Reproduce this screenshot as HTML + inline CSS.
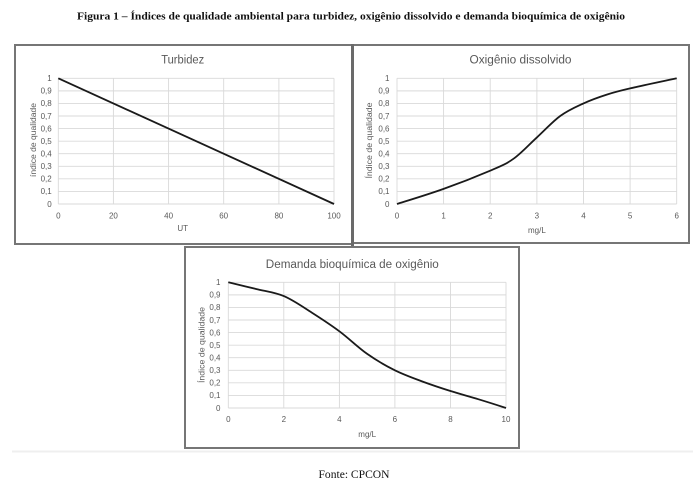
<!DOCTYPE html>
<html><head><meta charset="utf-8">
<style>
html,body{margin:0;padding:0;background:#fff;}
svg{display:block;}
.t{font-family:"Liberation Sans",sans-serif;fill:#595959;}
.cap{font-family:"Liberation Serif",serif;fill:#111;}
</style></head>
<body>
<svg width="699" height="484" viewBox="0 0 699 484" xmlns="http://www.w3.org/2000/svg">
<rect width="699" height="484" fill="#fff"/>
<text class="cap" x="351" y="19.5" font-size="10.5" font-weight="bold" text-anchor="middle" textLength="548" lengthAdjust="spacingAndGlyphs">Figura 1 – Índices de qualidade ambiental para turbidez, oxigênio dissolvido e demanda bioquímica de oxigênio</text>

<!-- Chart 1 -->
<rect x="15" y="45" width="337" height="199" fill="#fff" stroke="#767676" stroke-width="2"/>
<g stroke="#d9d9d9" stroke-width="0.9" fill="none">
<path d="M58.3 204H334M58.3 191.43H334M58.3 178.86H334M58.3 166.29H334M58.3 153.72H334M58.3 141.15H334M58.3 128.58H334M58.3 116.01H334M58.3 103.44H334M58.3 90.87H334M58.3 78.3H334"/>
<path d="M58.3 78.3V204M113.4 78.3V204M168.6 78.3V204M223.7 78.3V204M278.9 78.3V204M334 78.3V204"/>
</g>
<path d="M58.3 78.3L334 204" stroke="#1a1a1a" stroke-width="1.8" fill="none"/>
<text class="t" x="182.7" y="63.5" font-size="11.5" text-anchor="middle" textLength="43" lengthAdjust="spacingAndGlyphs">Turbidez</text>
<g class="t" font-size="8" text-anchor="end">
<text x="51.7" y="206.8">0</text><text x="51.7" y="194.2">0,1</text><text x="51.7" y="181.7">0,2</text><text x="51.7" y="169.1">0,3</text><text x="51.7" y="156.5">0,4</text><text x="51.7" y="143.9">0,5</text><text x="51.7" y="131.4">0,6</text><text x="51.7" y="118.8">0,7</text><text x="51.7" y="106.2">0,8</text><text x="51.7" y="93.7">0,9</text><text x="51.7" y="81.1">1</text>
</g>
<g class="t" font-size="8" text-anchor="middle">
<text x="58.3" y="218.5">0</text><text x="113.4" y="218.5">20</text><text x="168.6" y="218.5">40</text><text x="223.7" y="218.5">60</text><text x="278.9" y="218.5">80</text><text x="334" y="218.5">100</text>
<text x="182.7" y="231">UT</text>
</g>
<text class="t" font-size="8" text-anchor="middle" transform="translate(35.8,140) rotate(-90)" textLength="74" lengthAdjust="spacingAndGlyphs">índice de qualidade</text>

<!-- Chart 2 -->
<rect x="353" y="45" width="336" height="198" fill="#fff" stroke="#767676" stroke-width="2"/>
<line x1="352.5" y1="44" x2="352.5" y2="246" stroke="#6a6a6a" stroke-width="3"/>
<g stroke="#d9d9d9" stroke-width="0.9" fill="none">
<path d="M397 204H676.7M397 191.43H676.7M397 178.86H676.7M397 166.29H676.7M397 153.72H676.7M397 141.15H676.7M397 128.58H676.7M397 116.01H676.7M397 103.44H676.7M397 90.87H676.7M397 78.3H676.7"/>
<path d="M397 78.3V204M443.6 78.3V204M490.2 78.3V204M536.9 78.3V204M583.5 78.3V204M630.1 78.3V204M676.7 78.3V204"/>
</g>
<path d="M397 204C404.8 201.5 428.1 194.5 443.6 188.9C459.1 183.4 478.5 175.7 490.2 170.7C501.9 165.7 505.8 164.25 513.6 158.7C521.4 153.15 529.1 144.5 536.9 137.4C544.7 130.3 552.4 121.7 560.2 116C568 110.3 575.7 107 583.5 103.4C591.3 99.8 599 97.1 606.8 94.6C614.6 92.1 618.4 91.1 630.1 88.4C641.8 85.7 668.9 80 676.7 78.3" stroke="#1a1a1a" stroke-width="1.8" fill="none"/>
<text class="t" x="520.5" y="63.5" font-size="11.5" text-anchor="middle" textLength="102" lengthAdjust="spacingAndGlyphs">Oxigênio dissolvido</text>
<g class="t" font-size="8" text-anchor="end">
<text x="389.5" y="206.8">0</text><text x="389.5" y="194.2">0,1</text><text x="389.5" y="181.7">0,2</text><text x="389.5" y="169.1">0,3</text><text x="389.5" y="156.5">0,4</text><text x="389.5" y="143.9">0,5</text><text x="389.5" y="131.4">0,6</text><text x="389.5" y="118.8">0,7</text><text x="389.5" y="106.2">0,8</text><text x="389.5" y="93.7">0,9</text><text x="389.5" y="81.1">1</text>
</g>
<g class="t" font-size="8" text-anchor="middle">
<text x="397" y="218.5">0</text><text x="443.6" y="218.5">1</text><text x="490.2" y="218.5">2</text><text x="536.9" y="218.5">3</text><text x="583.5" y="218.5">4</text><text x="630.1" y="218.5">5</text><text x="676.7" y="218.5">6</text>
<text x="536.9" y="233">mg/L</text>
</g>
<text class="t" font-size="8" text-anchor="middle" transform="translate(371.8,140.5) rotate(-90)" textLength="76" lengthAdjust="spacingAndGlyphs">Índice de qualidade</text>

<!-- Chart 3 -->
<rect x="185" y="247" width="334" height="201" fill="#fff" stroke="#767676" stroke-width="2"/>
<g stroke="#d9d9d9" stroke-width="0.9" fill="none">
<path d="M228.3 408H506M228.3 395.43H506M228.3 382.86H506M228.3 370.29H506M228.3 357.72H506M228.3 345.15H506M228.3 332.58H506M228.3 320.01H506M228.3 307.44H506M228.3 294.87H506M228.3 282.3H506"/>
<path d="M228.3 282.3V408M283.8 282.3V408M339.4 282.3V408M394.9 282.3V408M450.5 282.3V408M506 282.3V408"/>
</g>
<path d="M228.3 282.3C232.9 283.4 246.9 286.7 256.1 289C265.35 291.3 274.55 292.2 283.8 296.1C293.05 300 302.35 306.6 311.6 312.5C320.85 318.4 330.1 324.4 339.4 331.3C348.7 338.2 357.95 347.4 367.2 353.9C376.45 360.4 385.65 365.7 394.9 370.3C404.15 374.9 413.4 378.15 422.7 381.6C432 385.05 441.25 388.1 450.5 391C459.75 393.9 468.95 396.4 478.2 399.2C487.45 402 501.4 406.5 506 408" stroke="#1a1a1a" stroke-width="1.8" fill="none"/>
<text class="t" x="352.3" y="268" font-size="11.5" text-anchor="middle" textLength="173" lengthAdjust="spacingAndGlyphs">Demanda bioquímica de oxigênio</text>
<g class="t" font-size="8" text-anchor="end">
<text x="220.5" y="410.8">0</text><text x="220.5" y="398.2">0,1</text><text x="220.5" y="385.7">0,2</text><text x="220.5" y="373.1">0,3</text><text x="220.5" y="360.5">0,4</text><text x="220.5" y="347.9">0,5</text><text x="220.5" y="335.4">0,6</text><text x="220.5" y="322.8">0,7</text><text x="220.5" y="310.2">0,8</text><text x="220.5" y="297.7">0,9</text><text x="220.5" y="285.1">1</text>
</g>
<g class="t" font-size="8" text-anchor="middle">
<text x="228.3" y="422">0</text><text x="283.8" y="422">2</text><text x="339.4" y="422">4</text><text x="394.9" y="422">6</text><text x="450.5" y="422">8</text><text x="506" y="422">10</text>
<text x="367.2" y="437">mg/L</text>
</g>
<text class="t" font-size="8" text-anchor="middle" transform="translate(204.5,345) rotate(-90)" textLength="76" lengthAdjust="spacingAndGlyphs">Índice de qualidade</text>

<line x1="12" y1="451.5" x2="693" y2="451.5" stroke="#efefef" stroke-width="2"/>
<text class="cap" x="354" y="478" font-size="11.5" text-anchor="middle" textLength="71" lengthAdjust="spacingAndGlyphs">Fonte: CPCON</text>
</svg>
</body></html>
